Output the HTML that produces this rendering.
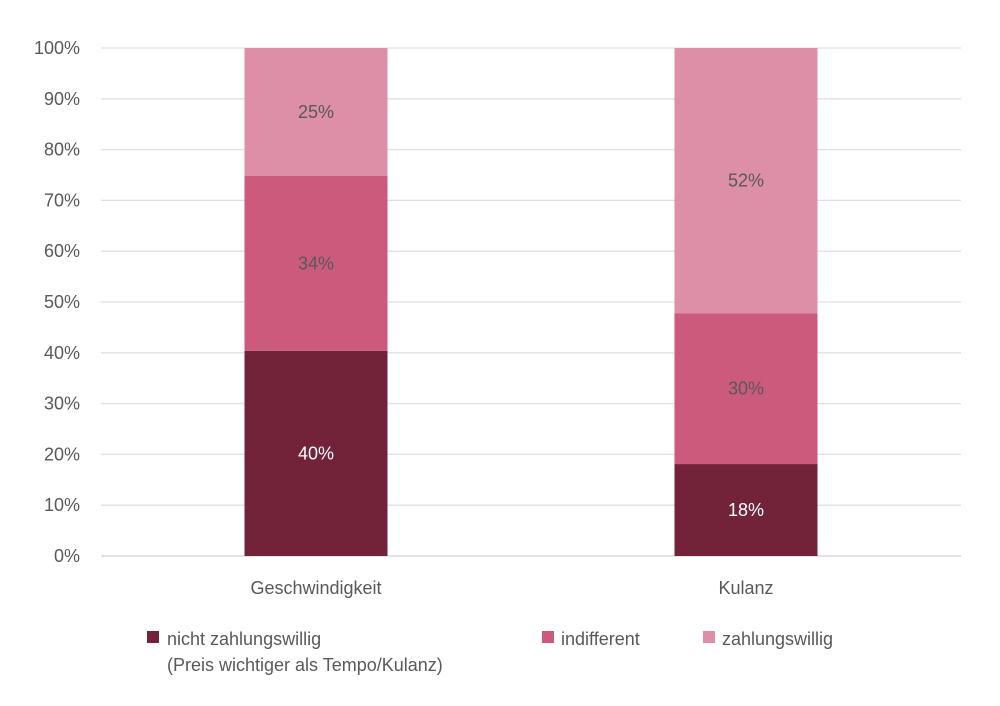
<!DOCTYPE html>
<html><head><meta charset="utf-8"><style>
body{margin:0;background:#fff;font-family:"Liberation Sans",sans-serif}
svg text{font-family:"Liberation Sans",sans-serif}
</style></head><body>
<svg width="1000" height="701" viewBox="0 0 1000 701">
<g id="grid"></g><g id="bars"></g><g id="labels"></g>
<g font-size="18" fill="#595959">
<rect x="147" y="631" width="12" height="12" fill="#722339"/>
<text x="167" y="645" fill="#595959">nicht zahlungswillig</text>
<text x="167" y="671" fill="#595959">(Preis wichtiger als Tempo/Kulanz)</text>
<rect x="542" y="631" width="12" height="12" fill="#cc5a7c"/>
<text x="561" y="645" fill="#595959">indifferent</text>
<rect x="703" y="631" width="12" height="12" fill="#dd8fa7"/>
<text x="722" y="645" fill="#595959">zahlungswillig</text>
</g>
</svg>
<script>
const categories=["Geschwindigkeit","Kulanz"];
const nichtZahlungswillig=[40.4,18.1];
const indifferent=[34.4,29.7];
const zahlungswillig=[25.2,52.2];
const yTicks=[0,10,20,30,40,50,60,70,80,90,100];
const seriesNames=["nicht-zahlungswillig","indifferent","zahlungswillig"];
const series=[nichtZahlungswillig,indifferent,zahlungswillig];
const colors=["#722339","#cc5a7c","#dd8fa7"];
const labelColors=["#ffffff","#595959","#595959"];
const NS="http://www.w3.org/2000/svg";
const x0=101,x1=961,y0=556,y1=48;
const y=v=>y0-(v/100)*(y0-y1);
const band=(x1-x0)/categories.length;
const xc=i=>x0+band*(i+0.5);
const bw=143;
function mk(tag,attrs,parent){const e=document.createElementNS(NS,tag);for(const k in attrs)e.setAttribute(k,attrs[k]);parent.appendChild(e);return e;}
const grid=document.getElementById('grid'),bars=document.getElementById('bars'),labels=document.getElementById('labels');
yTicks.forEach(t=>{
 const l=mk('line',{x1:x0,x2:x1,y1:y(t),y2:y(t),stroke:t===0?'#d0d0d0':'#e0e0e0','stroke-width':1.3},grid);
 
 
 const tx=mk('text',{x:80,y:y(t)+6,'text-anchor':'end','font-size':18,fill:'#595959'},grid);
 tx.textContent=t+'%';
 
 
});
categories.forEach((c,i)=>{
 let base=0;
 series.forEach((s,j)=>{
  const v=s[i];
  const r=mk('rect',{x:xc(i)-bw/2,y:y(base+v),width:bw,height:y(base)-y(base+v),fill:colors[j]},bars);
  
  
  const t=mk('text',{x:xc(i),y:(y(base)+y(base+v))/2+6,'text-anchor':'middle','font-size':18,fill:labelColors[j]},labels);
  t.textContent=Math.round(v)+'%';
  
  
  base+=v;
 });
 const xl=mk('text',{x:xc(i),y:594,'text-anchor':'middle','font-size':18,fill:'#595959'},labels);
 xl.textContent=c;
 
 
});
</script>
</body></html>
